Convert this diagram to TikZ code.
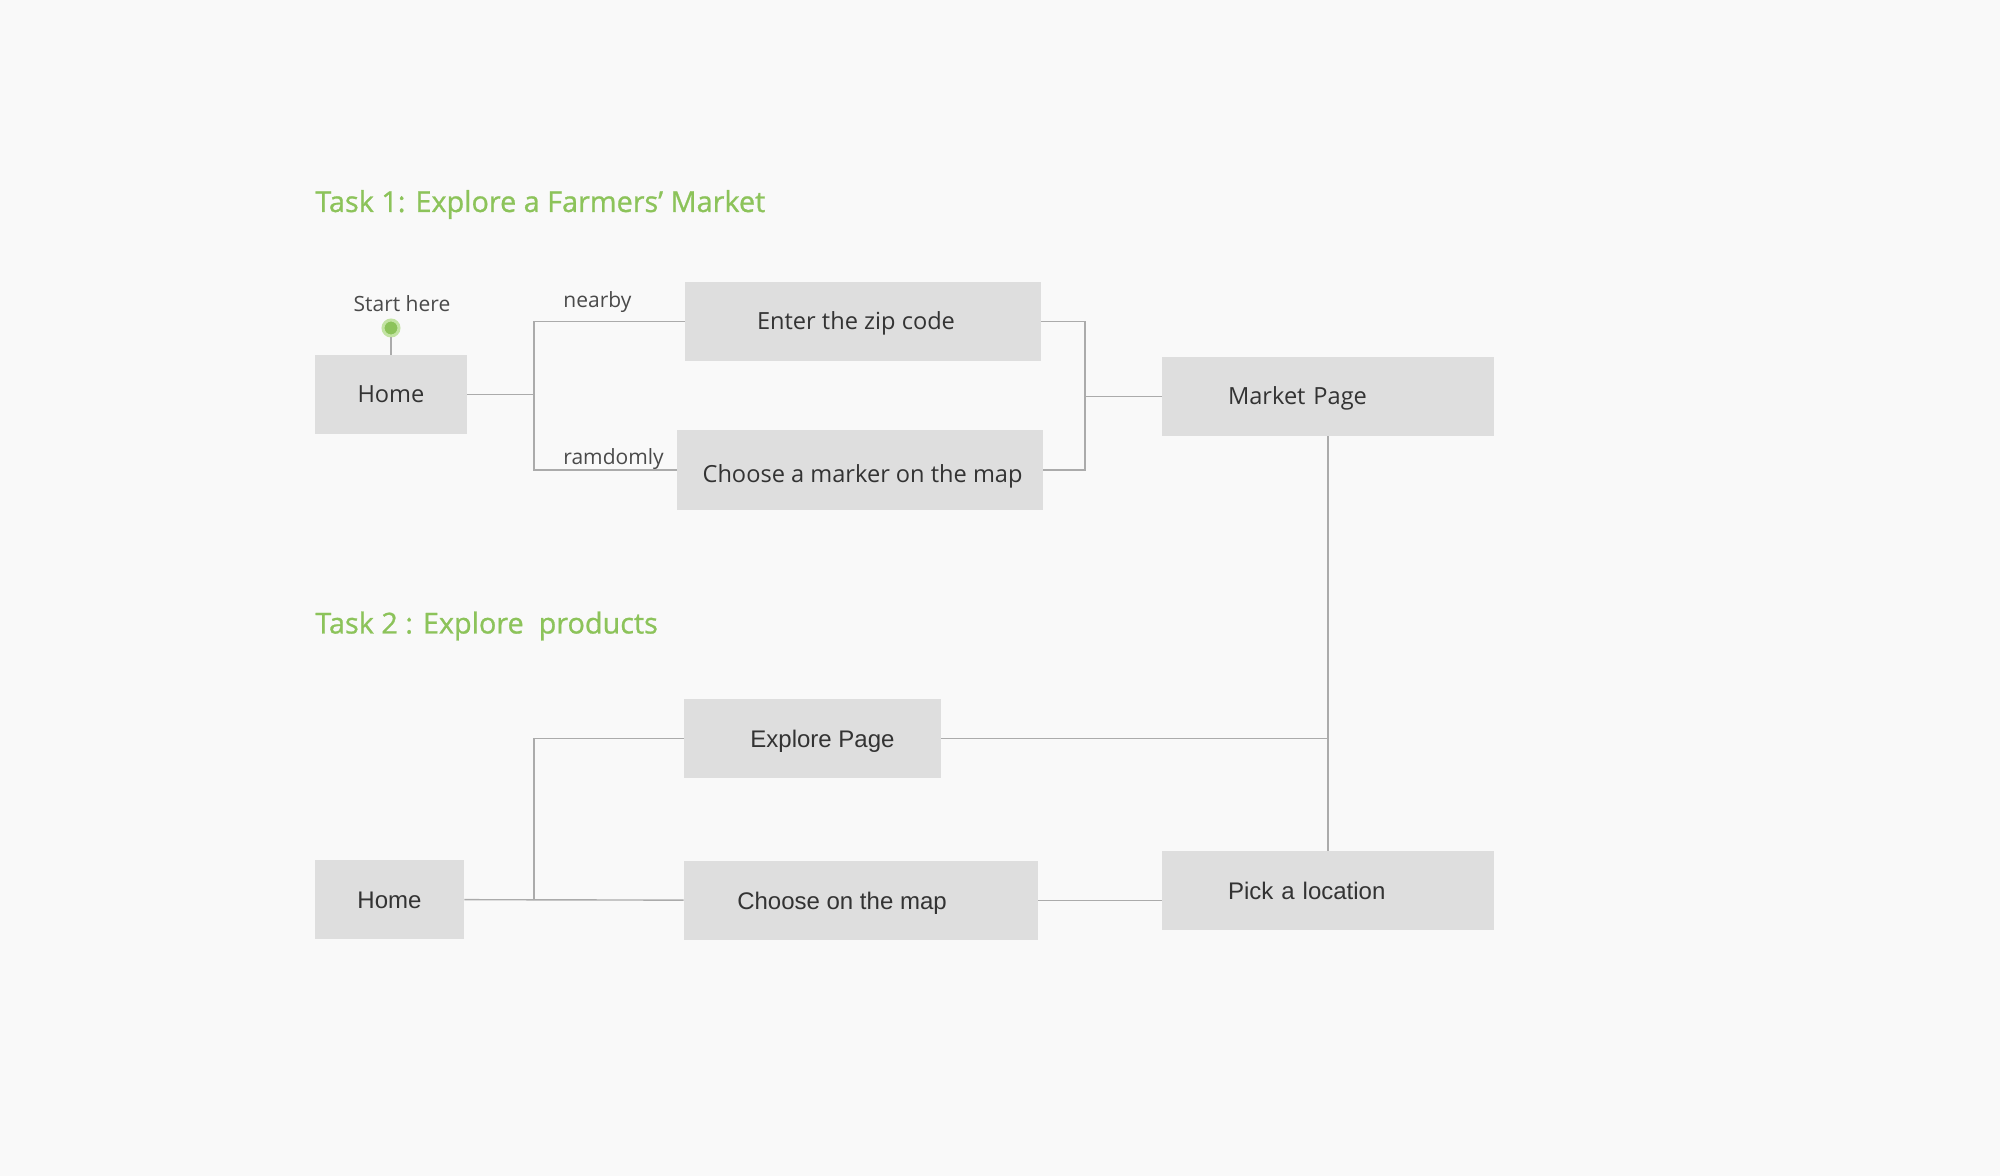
\documentclass[tikz,border=0pt]{standalone}
\usepackage{fontspec}
\setmainfont{Open Sans}
\newfontfamily\helv{Liberation Sans}
\newfontfamily\titlefont[FakeBold=0.9]{Open Sans}
\usetikzlibrary{positioning}

\definecolor{paper}{HTML}{F9F9F9}
\definecolor{boxgray}{HTML}{DEDEDE}
\definecolor{linegray}{HTML}{ABABAB}
\definecolor{inkgray}{HTML}{333333}
\definecolor{taggray}{HTML}{4A4A4A}
\definecolor{taskgreen}{HTML}{8CC35A}
\definecolor{ringgreen}{HTML}{C2E3A2}

% move a box text sideways without changing the box
\newcommand{\offsettext}[2]{\hspace*{#1}#2\hspace*{-#1}}

\begin{document}
\begin{tikzpicture}[
  x=0.5pt, y=-0.5pt,
  every node/.style={
    rectangle, text=inkgray,
  },
  screen/.style={fill=boxgray, inner sep=0pt, minimum height=39.5pt,
    font=\fontsize{11.8}{14}\selectfont, text height=9.6pt, text depth=1.2pt},
  screenH/.style={screen, font=\helv\fontsize{12}{14}\selectfont,
    text height=10pt, text depth=1.4pt},
  tasktitle/.style={text=taskgreen, inner sep=0pt, anchor=west,
    font=\titlefont\fontsize{14.4}{17}\selectfont},
  tag/.style={inner sep=0pt, anchor=west, text=taggray,
    font=\fontsize{10.5}{13}\selectfont},
  link/.style={draw=linegray, line width=0.7pt},
]
\fill[paper] (0,0) rectangle (2000,1176);
\useasboundingbox (0,0) rectangle (2000,1176);

% Task 1
\node[tasktitle] (task1) at (315,204.5) {Task 1: Explore a Farmers’ Market};

\node[screen, minimum width=76pt] (home1) at (391,394.5) {Home};
\node[circle, fill=taskgreen, draw=ringgreen, line width=1.5pt, minimum size=8pt,
  inner sep=0pt] (start) at (391,328) {};
\node[tag, anchor=south, above=3pt of start, xshift=5.5pt] (starthere) {Start here};

\node[screen, minimum width=178pt] (zip) at (863,321.5) {\offsettext{-3.5pt}{Enter the zip code}};
\node[screen, minimum width=183pt, minimum height=40pt, text height=13.4pt] (marker) at (860,470) {\offsettext{1.3pt}{Choose a marker on the map}};
\node[screen, minimum width=166pt, text width=100pt, align=left] (market) at (1328,396.5) {Market Page};

\coordinate (fork1) at (534,394.5);
\coordinate (merge1) at (1085,396.5);

\node[tag] (nearby) at (563,302.5) {nearby};
\node[tag] (randomly) at (563,459) {ramdomly};

\path[link] (start) -- (home1);
\path[link] (home1) -- (fork1);
\path[link] (fork1) |- (zip);
\path[link] (fork1) |- (marker);
\path[link] (zip) -| (merge1);
\path[link] (marker) -| (merge1);
\path[link] (merge1) -- (market);

% Task 2
\node[tasktitle] (task2) at (315,626) {Task 2 : Explore\ \ products};

\node[screenH, minimum width=128.5pt] (explore) at (812.5,738.5) {\offsettext{5pt}{Explore Page}};
\node[screenH, minimum width=74.5pt] (home2) at (389.5,899.5) {Home};
\node[screenH, minimum width=177pt] (mapbox) at (861,900.5) {\offsettext{-9.5pt}{Choose on the map}};
\node[screenH, minimum width=166pt, text width=100pt, align=left] (pick) at (1328,890.5) {Pick a location};

\coordinate (fork2) at (534,900);
\coordinate (join2) at (1328,738.5);

\path[link] (home2) -- (mapbox);
\path[link] (fork2) |- (explore);
\path[link] (explore) -- (join2);
\path[link] (market) -- (pick);
\path[link] (mapbox) -- (mapbox -| pick.west);
\end{tikzpicture}
\end{document}
